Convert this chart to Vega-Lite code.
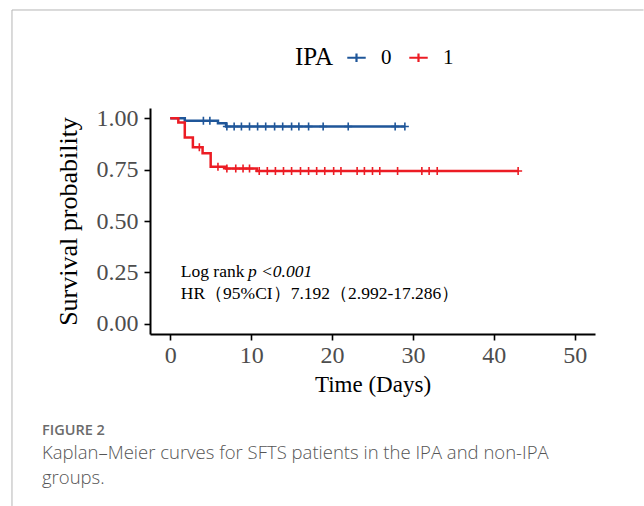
{
  "$schema": "https://vega.github.io/schema/vega-lite/v6.json",
  "width": 445,
  "height": 226,
  "autosize": {"type": "none"},
  "padding": {"left": 150, "top": 108, "right": 49, "bottom": 172},
  "background": "white",
  "datasets": {
    "curve": [
      {"time": 0, "surv": 1, "group": "0"},
      {"time": 1.8, "surv": 0.988, "group": "0"},
      {"time": 5.9, "surv": 0.976, "group": "0"},
      {"time": 6.9, "surv": 0.96, "group": "0"},
      {"time": 29, "surv": 0.96, "group": "0"},
      {"time": 0, "surv": 1, "group": "1"},
      {"time": 1, "surv": 0.979, "group": "1"},
      {"time": 1.8, "surv": 0.907, "group": "1"},
      {"time": 2.8, "surv": 0.859, "group": "1"},
      {"time": 4, "surv": 0.83, "group": "1"},
      {"time": 5, "surv": 0.764, "group": "1"},
      {"time": 6.9, "surv": 0.755, "group": "1"},
      {"time": 10.7, "surv": 0.743, "group": "1"},
      {"time": 43, "surv": 0.743, "group": "1"}
    ],
    "censor": [
      {"time": 4.1, "surv": 0.988, "group": "0"},
      {"time": 4.9, "surv": 0.988, "group": "0"},
      {"time": 7.0, "surv": 0.96, "group": "0"},
      {"time": 7.9, "surv": 0.96, "group": "0"},
      {"time": 8.8, "surv": 0.96, "group": "0"},
      {"time": 9.8, "surv": 0.96, "group": "0"},
      {"time": 10.8, "surv": 0.96, "group": "0"},
      {"time": 11.8, "surv": 0.96, "group": "0"},
      {"time": 12.9, "surv": 0.96, "group": "0"},
      {"time": 13.9, "surv": 0.96, "group": "0"},
      {"time": 15.0, "surv": 0.96, "group": "0"},
      {"time": 15.9, "surv": 0.96, "group": "0"},
      {"time": 17.1, "surv": 0.96, "group": "0"},
      {"time": 18.9, "surv": 0.96, "group": "0"},
      {"time": 22.0, "surv": 0.96, "group": "0"},
      {"time": 27.8, "surv": 0.96, "group": "0"},
      {"time": 29.0, "surv": 0.96, "group": "0"},
      {"time": 3.6, "surv": 0.859, "group": "1"},
      {"time": 5.9, "surv": 0.764, "group": "1"},
      {"time": 7.0, "surv": 0.755, "group": "1"},
      {"time": 8.1, "surv": 0.755, "group": "1"},
      {"time": 9.0, "surv": 0.755, "group": "1"},
      {"time": 9.8, "surv": 0.755, "group": "1"},
      {"time": 11.0, "surv": 0.743, "group": "1"},
      {"time": 12.0, "surv": 0.743, "group": "1"},
      {"time": 13.0, "surv": 0.743, "group": "1"},
      {"time": 14.0, "surv": 0.743, "group": "1"},
      {"time": 15.0, "surv": 0.743, "group": "1"},
      {"time": 16.1, "surv": 0.743, "group": "1"},
      {"time": 17.1, "surv": 0.743, "group": "1"},
      {"time": 18.1, "surv": 0.743, "group": "1"},
      {"time": 19.1, "surv": 0.743, "group": "1"},
      {"time": 20.2, "surv": 0.743, "group": "1"},
      {"time": 21.1, "surv": 0.743, "group": "1"},
      {"time": 23.1, "surv": 0.743, "group": "1"},
      {"time": 24.0, "surv": 0.743, "group": "1"},
      {"time": 25.0, "surv": 0.743, "group": "1"},
      {"time": 25.9, "surv": 0.743, "group": "1"},
      {"time": 28.1, "surv": 0.743, "group": "1"},
      {"time": 31.1, "surv": 0.743, "group": "1"},
      {"time": 32.0, "surv": 0.743, "group": "1"},
      {"time": 33.0, "surv": 0.743, "group": "1"},
      {"time": 43.0, "surv": 0.743, "group": "1"}
    ]
  },
  "title": {
    "text": "FIGURE 2",
    "subtitle": ["Kaplan–Meier curves for SFTS patients in the IPA and non-IPA", "groups."],
    "orient": "bottom",
    "anchor": "start",
    "frame": "group",
    "dx": -108,
    "offset": -82,
    "font": "Open Sans",
    "fontSize": 14.5,
    "fontWeight": 600,
    "color": "#6b6b6b",
    "subtitleFont": "Open Sans",
    "subtitleFontSize": 18.5,
    "subtitleFontWeight": 300,
    "subtitleColor": "#555555",
    "subtitleLineHeight": 25,
    "subtitlePadding": 5
  },
  "layer": [
    {
      "data": {"values": [{}]},
      "mark": {"type": "rule", "color": "#b5b5b5", "strokeWidth": 1},
      "encoding": {"x": {"datum": -19.56}, "y": {"datum": 1.527}, "y2": {"datum": -0.887}}
    },
    {
      "data": {"values": [{}]},
      "mark": {"type": "rule", "color": "#b5b5b5", "strokeWidth": 1},
      "encoding": {"x": {"datum": -19.56}, "x2": {"datum": 58.5}, "y": {"datum": 1.527}}
    },
    {
      "data": {"name": "curve"},
      "mark": {"type": "line", "interpolate": "step-after", "strokeWidth": 2.5},
      "encoding": {
        "x": {
          "field": "time", "type": "quantitative",
          "scale": {"domain": [-2.5, 52.5], "nice": false, "zero": false},
          "axis": {
            "values": [0, 10, 20, 30, 40, 50],
            "title": "Time (Days)"
          }
        },
        "y": {
          "field": "surv", "type": "quantitative",
          "scale": {"domain": [-0.05, 1.05], "nice": false, "zero": false},
          "axis": {
            "values": [0, 0.25, 0.5, 0.75, 1],
            "format": ".2f",
            "title": "Survival probability"
          }
        },
        "color": {
          "field": "group", "type": "nominal",
          "scale": {"domain": ["0", "1"], "range": ["#1f5699", "#ec1c24"]},
          "legend": {
            "title": "IPA",
            "orient": "none",
            "legendX": 145,
            "legendY": -61,
            "direction": "horizontal",
            "titleOrient": "left",
            "titleFont": "Liberation Serif",
            "titleFontSize": 25,
            "titleFontWeight": "normal",
            "titleColor": "black",
            "titlePadding": 13,
            "labelFont": "Liberation Serif",
            "labelFontSize": 21,
            "labelColor": "black",
            "labelOffset": 14,
            "columnPadding": 12,
            "symbolType": "M-1,0L1,0M0,-0.45L0,0.45",
            "symbolSize": 340,
            "symbolStrokeWidth": 2.2
          }
        }
      }
    },
    {
      "data": {"name": "censor"},
      "mark": {"type": "point", "shape": "M-1,0L1,0M0,-1L0,1", "filled": false, "strokeWidth": 1.6, "size": 64, "opacity": 1},
      "encoding": {
        "x": {"field": "time", "type": "quantitative"},
        "y": {"field": "surv", "type": "quantitative"},
        "color": {"field": "group", "type": "nominal", "legend": null}
      }
    },
    {
      "data": {"values": [{}]},
      "mark": {"type": "text", "text": "Log rank", "align": "left", "baseline": "middle", "font": "Liberation Serif", "fontSize": 17.5, "color": "black"},
      "encoding": {"x": {"datum": 1.3}, "y": {"datum": 0.252}}
    },
    {
      "data": {"values": [{}]},
      "mark": {"type": "text", "text": "p <0.001", "align": "left", "baseline": "middle", "font": "Liberation Serif", "fontSize": 17.5, "fontStyle": "italic", "color": "black"},
      "encoding": {"x": {"datum": 9.6}, "y": {"datum": 0.252}}
    },
    {
      "data": {"values": [{}]},
      "mark": {"type": "text", "text": "HR（95%CI）7.192（2.992-17.286）", "align": "left", "baseline": "middle", "font": "Liberation Serif", "fontSize": 17.5, "color": "black"},
      "encoding": {"x": {"datum": 1.3}, "y": {"datum": 0.145}}
    }
  ],
  "config": {
    "view": {"stroke": null},
    "axis": {
      "grid": false,
      "domainColor": "black",
      "domainWidth": 2,
      "tickColor": "black",
      "tickWidth": 1.6,
      "tickSize": 6,
      "labelFont": "Liberation Serif",
      "labelFontSize": 24,
      "labelColor": "#4d4d4d",
      "titleFont": "Liberation Serif",
      "titleFontWeight": "normal",
      "titleColor": "black"
    },
    "axisX": {"labelPadding": 3, "titlePadding": 6, "titleFontSize": 23},
    "axisY": {"labelPadding": 6, "titlePadding": 15, "titleFontSize": 26}
  }
}
